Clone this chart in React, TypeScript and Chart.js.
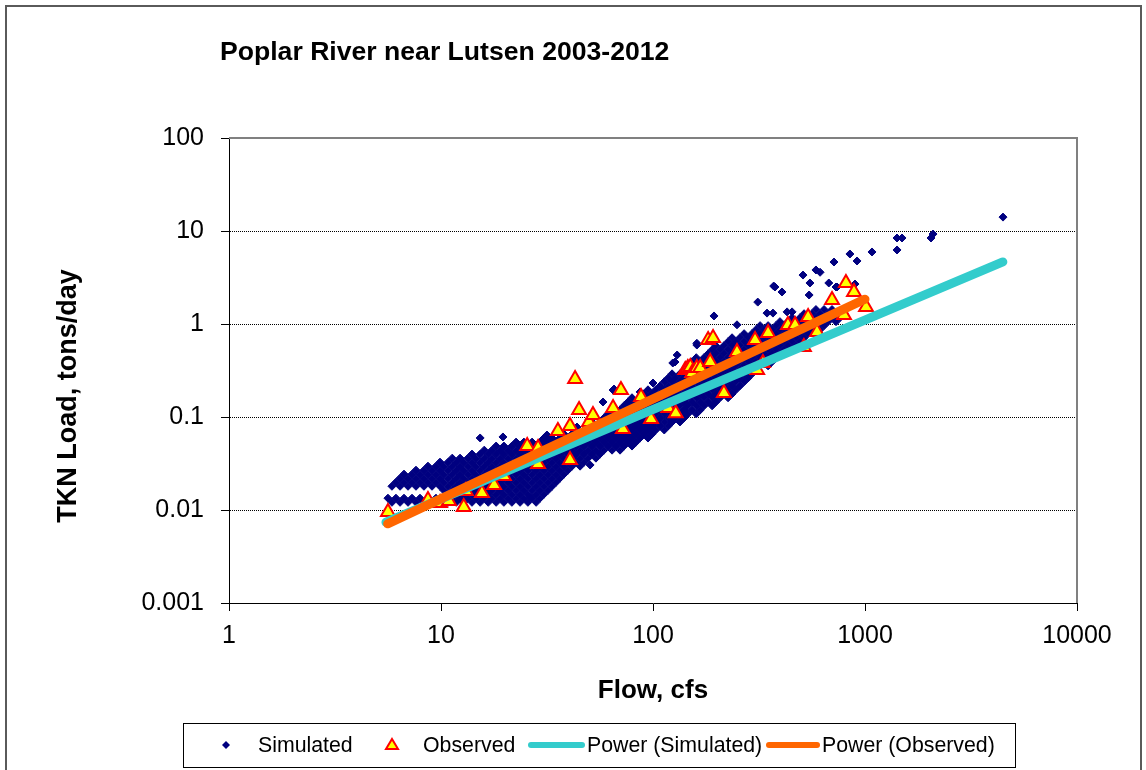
import React, { useEffect, useRef } from 'react';
import { Chart, registerables } from 'chart.js';

Chart.register(...registerables);

const FONT = '"Liberation Sans", Arial, Helvetica, sans-serif';

const titleText = 'Poplar River near Lutsen 2003-2012';
const xTitle = 'Flow, cfs';
const yTitle = 'TKN Load, tons/day';

const xTickValues = [1, 10, 100, 1000, 10000];
const xTickLabels = ['1', '10', '100', '1000', '10000'];
const yTickValues = [0.001, 0.01, 0.1, 1, 10, 100];
const yTickLabels = ['0.001', '0.01', '0.1', '1', '10', '100'];
const gridValues = [0.01, 0.1, 1, 10];

// Simulated daily loads (dense cloud), read column by column (flow, cfs)
const simFlowCols = [
  5.62, 5.87, 6.13, 6.41, 6.69, 6.99, 7.3, 7.62, 7.96, 8.31, 8.68, 9.07, 9.47, 9.89, 10.3, 10.8, 11.3, 11.8, 12.3, 12.8,
  13.4, 14.0, 14.6, 15.3, 16.0, 16.7, 17.4, 18.2, 19.0, 19.8, 20.7, 21.6, 22.6, 23.6, 24.6, 25.7, 26.9, 28.1, 29.3, 30.6,
  32.0, 33.4, 34.9, 36.4, 38.0, 39.7, 41.5, 43.3, 45.3, 47.3, 49.4, 51.6, 53.8, 56.2, 58.7, 61.3, 64.1, 66.9, 69.9, 73.0,
  76.2, 79.6, 83.1, 86.8, 90.7, 94.7, 98.9, 103, 108, 113, 118, 123, 128, 134, 140, 146, 153, 160, 167, 174,
  182, 190, 198, 207, 216, 226, 236, 246, 257, 269, 281, 293, 306, 320, 334, 349, 364, 380, 397, 415,
  433, 453, 473, 494, 516, 538, 562, 587, 613, 641, 669, 699, 730, 762, 796,
];
const simLoadCols = [
  [0.0134],
  [0.0121, 0.018],
  [0.0134, 0.0199],
  [0.0121, 0.018, 0.022],
  [0.0134, 0.0199, 0.0243],
  [0.0121, 0.018, 0.022],
  [0.0134, 0.0199, 0.0243],
  [0.0121, 0.018, 0.022, 0.0268],
  [0.0134, 0.0199, 0.0243],
  [0.0121, 0.018, 0.022, 0.0268],
  [0.0134, 0.0199, 0.0243, 0.0296],
  [0.0121, 0.018, 0.022, 0.0268],
  [0.0134, 0.0199, 0.0243, 0.0296],
  [0.0121, 0.018, 0.022, 0.0268, 0.0327],
  [0.0134, 0.0163, 0.0199, 0.0243, 0.0296],
  [0.0121, 0.0148, 0.018, 0.022, 0.0268, 0.0327],
  [0.0134, 0.0163, 0.0199, 0.0243, 0.0296, 0.0361],
  [0.0121, 0.0148, 0.018, 0.022, 0.0268, 0.0327],
  [0.0134, 0.0163, 0.0199, 0.0243, 0.0296, 0.0361],
  [0.0121, 0.0148, 0.018, 0.022, 0.0268, 0.0327],
  [0.0134, 0.0163, 0.0199, 0.0243, 0.0296, 0.0361],
  [0.0121, 0.0148, 0.018, 0.022, 0.0268, 0.0327, 0.0399],
  [0.0134, 0.0163, 0.0199, 0.0243, 0.0296, 0.0361],
  [0.0121, 0.0148, 0.018, 0.022, 0.0268, 0.0327, 0.0399],
  [0.0134, 0.0163, 0.0199, 0.0243, 0.0296, 0.0361, 0.044],
  [0.0121, 0.0148, 0.018, 0.022, 0.0268, 0.0327, 0.0399],
  [0.0134, 0.0163, 0.0199, 0.0243, 0.0296, 0.0361, 0.044],
  [0.0121, 0.0148, 0.018, 0.022, 0.0268, 0.0327, 0.0399, 0.0487],
  [0.0134, 0.0163, 0.0199, 0.0243, 0.0296, 0.0361, 0.044],
  [0.0121, 0.0148, 0.018, 0.022, 0.0268, 0.0327, 0.0399, 0.0487],
  [0.0134, 0.0163, 0.0199, 0.0243, 0.0296, 0.0361, 0.044],
  [0.0121, 0.0148, 0.018, 0.022, 0.0268, 0.0327, 0.0399, 0.0487],
  [0.0134, 0.0163, 0.0199, 0.0243, 0.0296, 0.0361, 0.044, 0.0537],
  [0.0121, 0.0148, 0.018, 0.022, 0.0268, 0.0327, 0.0399, 0.0487],
  [0.0134, 0.0163, 0.0199, 0.0243, 0.0296, 0.0361, 0.044, 0.0537],
  [0.0121, 0.0148, 0.018, 0.022, 0.0268, 0.0327, 0.0399, 0.0487],
  [0.0134, 0.0163, 0.0199, 0.0243, 0.0296, 0.0361, 0.044, 0.0537],
  [0.0121, 0.0148, 0.018, 0.022, 0.0268, 0.0327, 0.0399, 0.0487],
  [0.0134, 0.0163, 0.0199, 0.0243, 0.0296, 0.0361, 0.044, 0.0537],
  [0.0148, 0.018, 0.022, 0.0268, 0.0327, 0.0399, 0.0487, 0.0594],
  [0.0163, 0.0199, 0.0243, 0.0296, 0.0361, 0.044, 0.0537],
  [0.018, 0.022, 0.0268, 0.0327, 0.0399, 0.0487, 0.0594],
  [0.0199, 0.0243, 0.0296, 0.0361, 0.044, 0.0537],
  [0.022, 0.0268, 0.0327, 0.0399, 0.0487, 0.0594],
  [0.0243, 0.0296, 0.0361, 0.044, 0.0537, 0.0655],
  [0.0268, 0.0327, 0.0399, 0.0487, 0.0594],
  [0.0296, 0.0361, 0.044, 0.0537, 0.0655],
  [0.0327, 0.0399, 0.0487, 0.0594, 0.0725],
  [0.0296, 0.0361, 0.044, 0.0537, 0.0655],
  [0.0327, 0.0399, 0.0487, 0.0594, 0.0725],
  [0.0361, 0.044, 0.0537, 0.0655, 0.08],
  [0.0399, 0.0487, 0.0594, 0.0725, 0.0884],
  [0.0361, 0.044, 0.0537, 0.0655, 0.08],
  [0.0399, 0.0487, 0.0594, 0.0725, 0.0884],
  [0.044, 0.0537, 0.0655, 0.08, 0.0975],
  [0.0487, 0.0594, 0.0725, 0.0884, 0.108],
  [0.044, 0.0537, 0.0655, 0.08, 0.0975, 0.119],
  [0.0487, 0.0594, 0.0725, 0.0884, 0.108],
  [0.044, 0.0537, 0.0655, 0.08, 0.0975, 0.119],
  [0.0487, 0.0594, 0.0725, 0.0884, 0.108, 0.132],
  [0.0537, 0.0655, 0.08, 0.0975, 0.119, 0.145],
  [0.0487, 0.0594, 0.0725, 0.0884, 0.108, 0.132, 0.161],
  [0.0537, 0.0655, 0.08, 0.0975, 0.119, 0.145],
  [0.0594, 0.0725, 0.0884, 0.108, 0.132, 0.161],
  [0.0655, 0.08, 0.0975, 0.119, 0.145, 0.177],
  [0.0594, 0.0725, 0.0884, 0.108, 0.132, 0.161, 0.196],
  [0.0655, 0.08, 0.0975, 0.119, 0.145, 0.177],
  [0.0725, 0.0884, 0.108, 0.132, 0.161, 0.196],
  [0.08, 0.0975, 0.119, 0.145, 0.177, 0.216],
  [0.0725, 0.0884, 0.108, 0.132, 0.161, 0.196, 0.239],
  [0.08, 0.0975, 0.119, 0.145, 0.177, 0.216, 0.263],
  [0.0884, 0.108, 0.132, 0.161, 0.196, 0.239, 0.291],
  [0.0975, 0.119, 0.145, 0.177, 0.216, 0.263],
  [0.0884, 0.108, 0.132, 0.161, 0.196, 0.239, 0.291],
  [0.0975, 0.119, 0.145, 0.177, 0.216, 0.263, 0.321],
  [0.108, 0.132, 0.161, 0.196, 0.239, 0.291, 0.355],
  [0.119, 0.145, 0.177, 0.216, 0.263, 0.321, 0.392],
  [0.108, 0.132, 0.161, 0.196, 0.239, 0.291, 0.355, 0.434],
  [0.119, 0.145, 0.177, 0.216, 0.263, 0.321, 0.392],
  [0.132, 0.161, 0.196, 0.239, 0.291, 0.355, 0.434],
  [0.145, 0.177, 0.216, 0.263, 0.321, 0.392, 0.478],
  [0.132, 0.161, 0.196, 0.239, 0.291, 0.355, 0.434, 0.529],
  [0.145, 0.177, 0.216, 0.263, 0.321, 0.392, 0.478, 0.583],
  [0.161, 0.196, 0.239, 0.291, 0.355, 0.434, 0.529],
  [0.177, 0.216, 0.263, 0.321, 0.392, 0.478, 0.583],
  [0.161, 0.196, 0.239, 0.291, 0.355, 0.434, 0.529, 0.645],
  [0.177, 0.216, 0.263, 0.321, 0.392, 0.478, 0.583, 0.711],
  [0.196, 0.239, 0.291, 0.355, 0.434, 0.529, 0.645],
  [0.216, 0.263, 0.321, 0.392, 0.478, 0.583, 0.711],
  [0.239, 0.291, 0.355, 0.434, 0.529, 0.645, 0.787],
  [0.263, 0.321, 0.392, 0.478, 0.583, 0.711],
  [0.291, 0.355, 0.434, 0.529, 0.645, 0.787],
  [0.321, 0.392, 0.478, 0.583, 0.711, 0.868],
  [0.355, 0.434, 0.529, 0.645, 0.787, 0.96],
  [0.392, 0.478, 0.583, 0.711, 0.868],
  [0.355, 0.434, 0.529, 0.645, 0.787, 0.96],
  [0.392, 0.478, 0.583, 0.711, 0.868],
  [0.434, 0.529, 0.645, 0.787, 0.96],
  [0.478, 0.583, 0.711, 0.868, 1.06],
  [0.529, 0.645, 0.787, 0.96],
  [0.583, 0.711, 0.868, 1.06],
  [0.529, 0.645, 0.787, 0.96, 1.17],
  [0.583, 0.711, 0.868, 1.06],
  [0.645, 0.787, 0.96, 1.17],
  [0.711, 0.868, 1.06, 1.29],
  [0.787, 0.96, 1.17],
  [0.868, 1.06, 1.29],
  [0.96, 1.17, 1.43],
  [0.868, 1.06, 1.29],
  [0.96, 1.17, 1.43],
  [1.06, 1.29],
  [1.17, 1.43],
  [1.06, 1.29],
  [1.17],
  [1.29],
];

// Scattered simulated points outside the dense cloud
const simExtraFlow = [
  15.3, 19.6, 31.6, 43.8, 58.1, 64.8, 86.9, 100, 124, 130, 161, 50.5, 26.3, 65.5, 127, 161, 194, 249, 312, 345,
  368, 371, 406, 510, 550, 545, 587, 614, 675, 714, 730, 849, 917, 1079, 1416, 1416, 1495, 2048, 2094, 4477,
  897, 429, 453, 376, 738,
];
const simExtraLoad = [
  0.0595, 0.061, 0.064, 0.078, 0.145, 0.195, 0.186, 0.232, 0.381, 0.464, 0.594, 0.0305, 0.0137, 0.2, 0.39, 0.62,
  1.22, 0.98, 1.72, 1.31, 1.31, 2.56, 2.21, 3.36, 2.76, 2.05, 3.81, 3.6, 2.76, 4.64, 2.5, 5.66, 4.76, 5.95, 8.41,
  6.25, 8.41, 8.41, 9.28, 14.1, 2.69, 1.35, 1.35, 2.5, 2.5,
];

// Observed samples
const obsFlow = [
  5.62, 8.68, 9.9, 10.9, 12.8, 13.1, 15.6, 17.8, 19.8, 25.5, 28.7, 28.7, 35.6, 40.6, 40.6, 42.9, 44.8, 49.9, 52.1,
  64.8, 70.6, 72.1, 87.8, 97.9, 118, 128, 142, 146, 150, 153, 161, 167, 182, 186, 192, 216, 249, 303, 310, 330,
  349, 433, 468, 515, 539, 594, 699, 796, 813, 887, 1011,
];
const obsLoad = [
  0.0095, 0.0128, 0.0119, 0.0125, 0.0108, 0.016, 0.0152, 0.0186, 0.0232, 0.0488, 0.0313, 0.0464, 0.0707, 0.08,
  0.0345, 0.256, 0.119, 0.0883, 0.105, 0.125, 0.195, 0.0743, 0.164, 0.095, 0.125, 0.11, 0.32, 0.336, 0.345, 0.297,
  0.336, 0.336, 0.673, 0.39, 0.707, 0.181, 0.5, 0.673, 0.32, 0.381, 0.8, 0.976, 0.976, 0.566, 1.19, 0.82, 1.81,
  1.25, 2.76, 2.21, 1.52,
];

// Power trendlines (end points)
const powerSimFlow = [5.5, 4470];
const powerSimLoad = [0.0074, 4.65];
const powerObsFlow = [5.6, 1000];
const powerObsLoad = [0.0071, 1.85];

const seriesLabels = ['Simulated', 'Observed', 'Power (Simulated)', 'Power (Observed)'];
const colors = {
  sim: '#000080',
  obsFill: '#FFFF00',
  obsBorder: '#FF0000',
  powerSim: '#33CCCC',
  powerObs: '#FF6600',
};

const decorPlugin = {
  id: 'decor',
  beforeDatasetsDraw(chart: any) {
    const { ctx, chartArea: a, scales } = chart;
    ctx.save();
    ctx.strokeStyle = '#000';
    ctx.lineWidth = 1;
    ctx.setLineDash([1, 1]);
    for (const v of gridValues) {
      const y = Math.round(scales.y.getPixelForValue(v)) + 0.5;
      ctx.beginPath();
      ctx.moveTo(a.left + 1, y);
      ctx.lineTo(a.right, y);
      ctx.stroke();
    }
    ctx.setLineDash([]);
    ctx.strokeStyle = '#808080';
    ctx.lineWidth = 2;
    ctx.beginPath();
    ctx.moveTo(a.left, a.top);
    ctx.lineTo(a.right, a.top);
    ctx.lineTo(a.right, a.bottom);
    ctx.stroke();
    ctx.restore();
  },
  afterDraw(chart: any) {
    const { ctx, chartArea: a } = chart;
    ctx.save();
    // outer frame
    ctx.strokeStyle = '#5a5a5a';
    ctx.lineWidth = 2;
    ctx.beginPath();
    ctx.moveTo(6, 790);
    ctx.lineTo(6, 6);
    ctx.lineTo(1141, 6);
    ctx.lineTo(1141, 790);
    ctx.stroke();

    ctx.fillStyle = '#000';
    ctx.textBaseline = 'alphabetic';
    // title
    ctx.font = `bold 26.6px ${FONT}`;
    ctx.textAlign = 'left';
    ctx.fillText(titleText, 220, 60);
    // x title
    ctx.font = `bold 26px ${FONT}`;
    ctx.textAlign = 'center';
    ctx.fillText(xTitle, (a.left + a.right) / 2, 698);
    // y title
    ctx.save();
    ctx.translate(76, 396);
    ctx.rotate(-Math.PI / 2);
    ctx.font = `bold 27px ${FONT}`;
    ctx.fillText(yTitle, 0, 0);
    ctx.restore();

    // legend
    ctx.strokeStyle = '#000';
    ctx.lineWidth = 1;
    ctx.strokeRect(183.5, 723.5, 832, 44);
    const ly = 745;
    ctx.font = `21.3px ${FONT}`;
    ctx.textAlign = 'left';
    ctx.textBaseline = 'middle';
    // diamond
    ctx.fillStyle = colors.sim;
    ctx.beginPath();
    ctx.moveTo(226, ly - 4);
    ctx.lineTo(230, ly);
    ctx.lineTo(226, ly + 4);
    ctx.lineTo(222, ly);
    ctx.closePath();
    ctx.fill();
    ctx.fillStyle = '#000';
    ctx.fillText(seriesLabels[0], 258, ly + 1);
    // triangle
    ctx.fillStyle = colors.obsFill;
    ctx.strokeStyle = colors.obsBorder;
    ctx.lineWidth = 2;
    ctx.beginPath();
    ctx.moveTo(392, ly - 6);
    ctx.lineTo(398, ly + 4);
    ctx.lineTo(386, ly + 4);
    ctx.closePath();
    ctx.fill();
    ctx.stroke();
    ctx.fillStyle = '#000';
    ctx.fillText(seriesLabels[1], 423, ly + 1);
    // lines
    ctx.lineCap = 'round';
    ctx.lineWidth = 6;
    ctx.strokeStyle = colors.powerSim;
    ctx.beginPath();
    ctx.moveTo(531, ly);
    ctx.lineTo(582, ly);
    ctx.stroke();
    ctx.fillText(seriesLabels[2], 587, ly + 1);
    ctx.strokeStyle = colors.powerObs;
    ctx.beginPath();
    ctx.moveTo(769, ly);
    ctx.lineTo(817, ly);
    ctx.stroke();
    ctx.fillText(seriesLabels[3], 822, ly + 1);
    ctx.restore();
  },
};

export default function App() {
  const canvasRef = useRef<HTMLCanvasElement | null>(null);

  useEffect(() => {
    const canvas = canvasRef.current;
    if (!canvas) return;

    const simPoints: { x: number; y: number }[] = [];
    simFlowCols.forEach((f, i) => (simLoadCols[i] || []).forEach((l) => simPoints.push({ x: f, y: l })));
    simExtraFlow.forEach((f, i) => simPoints.push({ x: f, y: simExtraLoad[i] }));
    const obsPoints = obsFlow.map((f, i) => ({ x: f, y: obsLoad[i] }));
    const pSim = powerSimFlow.map((f, i) => ({ x: f, y: powerSimLoad[i] }));
    const pObs = powerObsFlow.map((f, i) => ({ x: f, y: powerObsLoad[i] }));

    const tickFont = { family: FONT, size: 25 };

    const chart = new Chart(canvas, {
      type: 'scatter',
      data: {
        datasets: [
          {
            label: seriesLabels[0],
            data: simPoints,
            pointStyle: 'rectRot',
            pointRadius: 4,
            pointBorderWidth: 1,
            backgroundColor: colors.sim,
            borderColor: colors.sim,
            order: 4,
          },
          {
            label: seriesLabels[1],
            data: obsPoints,
            pointStyle: 'triangle',
            pointRadius: 8,
            pointBorderWidth: 2,
            backgroundColor: colors.obsFill,
            borderColor: colors.obsBorder,
            order: 3,
          },
          {
            label: seriesLabels[2],
            data: pSim,
            showLine: true,
            pointRadius: 0,
            borderWidth: 9,
            borderColor: colors.powerSim,
            borderCapStyle: 'round',
            order: 2,
          },
          {
            label: seriesLabels[3],
            data: pObs,
            showLine: true,
            pointRadius: 0,
            borderWidth: 9,
            borderColor: colors.powerObs,
            borderCapStyle: 'round',
            order: 1,
          },
        ] as any,
      },
      options: {
        animation: false,
        responsive: false,
        devicePixelRatio: 1,
        layout: { padding: { left: 0, top: 138, right: 69, bottom: 0 } },
        plugins: {
          legend: { display: false },
          tooltip: { enabled: false },
          title: { display: false },
        },
        scales: {
          x: {
            type: 'logarithmic',
            position: 'bottom',
            min: 1,
            max: 10000,
            afterBuildTicks: (s: any) => {
              s.ticks = xTickValues.map((v) => ({ value: v }));
            },
            afterFit: (s: any) => {
              s.height = 167;
            },
            ticks: {
              autoSkip: false,
              maxRotation: 0,
              minRotation: 0,
              color: '#000',
              font: tickFont,
              padding: 10,
              callback: (_v: any, i: number) => xTickLabels[i],
            },
            grid: { drawOnChartArea: false, drawTicks: true, tickLength: 8, color: '#000', lineWidth: 1 },
            border: { display: true, color: '#000', width: 1 },
          },
          y: {
            type: 'logarithmic',
            position: 'left',
            min: 0.001,
            max: 100,
            afterBuildTicks: (s: any) => {
              s.ticks = yTickValues.map((v) => ({ value: v }));
            },
            afterFit: (s: any) => {
              s.width = 229;
            },
            ticks: {
              autoSkip: false,
              color: '#000',
              font: tickFont,
              padding: 17,
              callback: (_v: any, i: number) => yTickLabels[i],
            },
            grid: { drawOnChartArea: false, drawTicks: true, tickLength: 8, color: '#000', lineWidth: 1 },
            border: { display: true, color: '#000', width: 1 },
          },
        } as any,
      },
      plugins: [decorPlugin],
    });

    return () => chart.destroy();
  }, []);

  return (
    <div style={{ position: 'absolute', left: 0, top: 0, width: 1146, height: 770, background: '#fff' }}>
      <canvas ref={canvasRef} width={1146} height={770} style={{ display: 'block' }} />
    </div>
  );
}
